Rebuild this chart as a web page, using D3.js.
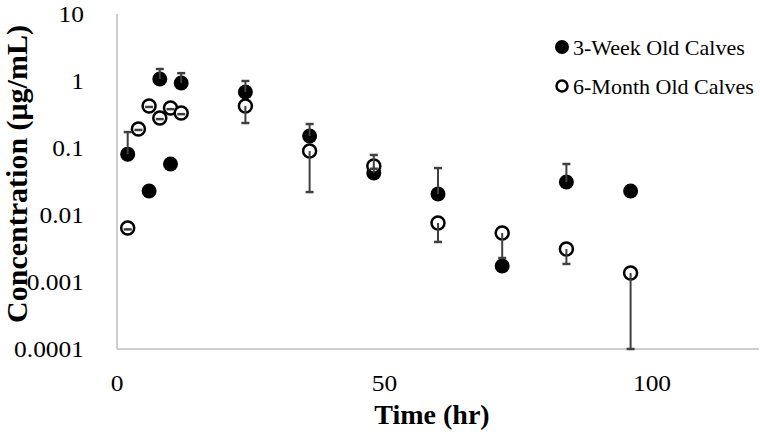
<!DOCTYPE html>
<html>
<head>
<meta charset="utf-8">
<script src="https://cdn.jsdelivr.net/npm/d3@7"></script>
<style>
  html, body { margin: 0; padding: 0; background: #fff; }
  text { font-family: "Liberation Serif", "Times New Roman", serif; fill: #000; }
</style>
</head>
<body>
<svg id="chart" width="760" height="438"></svg>
<script>
// ---- data ----
const timesWeek = [2, 6, 8, 10, 12, 24, 36, 48, 60, 72, 84, 96];
const meanWeek  = [0.081, 0.0228, 1.07, 0.0577, 0.933, 0.686, 0.151, 0.0424, 0.0206, 0.00173, 0.0311, 0.0228];
const upperWeek = [0.173, null, 1.51, null, 1.31, 1.0, 0.228, 0.0787, 0.0502, null, 0.0577, null];

const timesMonth = [2, 4, 6, 8, 10, 12, 24, 36, 48, 60, 72, 84, 96];
const meanMonth  = [0.0064, 0.192, 0.424, 0.281, 0.395, 0.333, 0.424, 0.090, 0.0538, 0.0076, 0.00538, 0.00311, 0.00136];
const lowerMonth = [0.0061, 0.186, 0.41, 0.27, 0.38, 0.32, 0.236, 0.022, 0.049, 0.00396, 0.00228, 0.00186, 0.0001];

const yTicks = [10, 1, 0.1, 0.01, 0.001, 0.0001];
const yTickLabels = ["10", "1", "0.1", "0.01", "0.001", "0.0001"];
const xTicks = [0, 50, 100];
const seriesNames = ["3-Week Old Calves", "6-Month Old Calves"];

// ---- layout ----
const svg = d3.select("#chart");
const x = d3.scaleLinear().domain([0, 120]).range([117, 759]);
const y = d3.scaleLog().domain([0.0001, 10]).range([349, 14]);

const axisColor = "#bfbfbf";
const barColor = "#404040";
const stretch = 1.06;

// axes lines
svg.append("line").attr("x1", x(0)).attr("x2", x(0)).attr("y1", y(10)).attr("y2", y(0.0001))
  .attr("stroke", axisColor).attr("stroke-width", 1.5);
svg.append("line").attr("x1", x(0)).attr("x2", x(120)).attr("y1", y(0.0001)).attr("y2", y(0.0001))
  .attr("stroke", axisColor).attr("stroke-width", 1.5);

// y tick labels
svg.append("g").selectAll("text").data(yTicks).join("text")
  .attr("transform", d => `translate(84,${y(d)}) scale(${stretch},1)`)
  .attr("dy", "0.35em")
  .attr("text-anchor", "end").style("font-size", "24px")
  .text((d, i) => yTickLabels[i]);

// x tick labels
svg.append("g").selectAll("text").data(xTicks).join("text")
  .attr("transform", d => `translate(${x(d)},383) scale(${stretch},1)`)
  .attr("dy", "0.35em")
  .attr("text-anchor", "middle").style("font-size", "24px")
  .text(d => d);

// titles
svg.append("text").attr("x", 432).attr("y", 424).attr("text-anchor", "middle")
  .style("font-size", "28px").style("font-weight", "bold").text("Time (hr)");
svg.append("text").attr("transform", "translate(27,174) rotate(-90)").attr("text-anchor", "middle")
  .style("font-size", "30px").style("font-weight", "bold").text("Concentration (μg/mL)");

// markers
const gW = svg.append("g");
gW.selectAll("circle").data(timesWeek).join("circle")
  .attr("cx", d => x(d)).attr("cy", (d, i) => y(meanWeek[i])).attr("r", 7.5)
  .attr("fill", "#000");
const gM = svg.append("g");
gM.selectAll("circle").data(timesMonth).join("circle")
  .attr("cx", d => x(d)).attr("cy", (d, i) => y(meanMonth[i])).attr("r", 6.5)
  .attr("fill", "#fff").attr("stroke", "#000").attr("stroke-width", 2.5);

// error bars
function errBars(times, means, ends) {
  const g = svg.append("g").attr("stroke", barColor);
  times.forEach((t, i) => {
    if (ends[i] == null) return;
    const cx = x(t), y0 = y(means[i]), y1 = y(ends[i]);
    g.append("line").attr("x1", cx).attr("x2", cx).attr("y1", y0).attr("y2", y1).attr("stroke-width", 2);
    g.append("line").attr("x1", cx - 4).attr("x2", cx + 4).attr("y1", y1).attr("y2", y1).attr("stroke-width", 2.5);
  });
}
errBars(timesWeek, meanWeek, upperWeek);
errBars(timesMonth, meanMonth, lowerMonth);

// legend
const leg = svg.append("g");
leg.append("circle").attr("cx", 562).attr("cy", 47).attr("r", 7).attr("fill", "#000");
leg.append("circle").attr("cx", 562).attr("cy", 86).attr("r", 5.5).attr("fill", "#fff").attr("stroke", "#000").attr("stroke-width", 2.5);
leg.selectAll("text").data(seriesNames).join("text")
  .attr("x", 573).attr("y", (d, i) => [47, 86][i]).attr("dy", "0.35em")
  .style("font-size", "22px").text(d => d);
</script>
</body>
</html>
